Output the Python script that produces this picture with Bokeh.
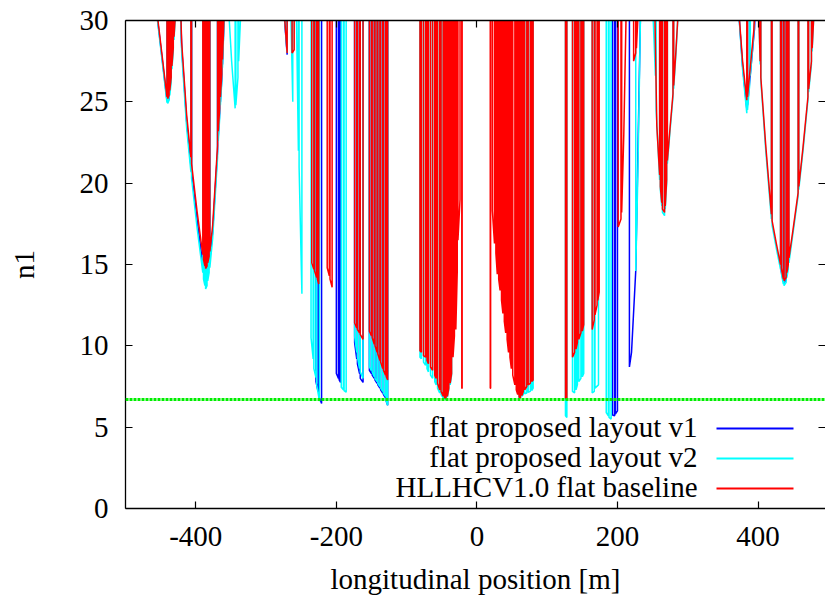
from bokeh.plotting import figure
from bokeh.models import (Range1d, FixedTicker, LinearAxis, Span, Label, BoxAnnotation,
                          PrintfTickFormatter, CustomJSTickFormatter)
from bokeh.embed import file_html
from bokeh.resources import INLINE

# ---------------- data ----------------
# Each series: positions s [m] and aperture n1, elements separated by None.
# Outside the elements n1 is "unlimited" (above the plotted range).
x_ticks = [-400, -200, 0, 200, 400]
y_ticks = [0, 5, 10, 15, 20, 25, 30]
n1_limit = 6.7
x_title = "longitudinal position [m]"
y_title = "n1"
labels = ["flat proposed layout v1", "flat proposed layout v2", "HLLHCV1.0 flat baseline"]

red_s = [
    -462, -441, None, -440, -438, None, -437, -435, None, -434, -432, None, -431, -428, None,
    -424, -420, -413, -407, None, -406, -398, -390, None, -389, -387, None, -386, -384, None,
    -383, -381, None, -380, -376, -369, None, -368, -366, None, -365, -363, None, -362, -360, -357, None,
    -275, -270, None, -263, -260, None,
    -235, -232, None, -231, -228, None, -227, -225, None, -213, -210, None, -209, -206, None,
    -174, -171, None, -170, -167, None, -166, -162, None,
    -153, -150, None, -149, -146, None, -145, -142, None, -141, -138, None, -137, -134, None,
    -133, -130, None, -129, -127, None,
    -81, -79, None, -76, -73, None, -71, -69, None, -66, -63, None, -60, -58, None, -56, -53, None,
    -51, -48, None, -46, -44, None, -42, -40, None, -38, -36, None, -34, -32, None, -30, -28, None,
    -27, -24, None, -21.5, -21, None,
    19, 19.5, None, 22, 25, None, 27, 29, None, 31, 33, None, 35, 37, None, 39, 41, None, 43, 45, None,
    47, 49, None, 51, 54, None, 56, 58, None, 60, 62, None, 64, 66, None, 68, 71, None, 73, 76, None,
    78, 80, None,
    126, 128, None, 136, 139, None, 141, 143, None, 145, 148, None, 150, 152, None,
    164, 167, None, 168, 171, None, 172, 174, None,
    201, 205, None, 206, 209, 213, None, 223, 226, None, 227, 230, None,
    253, 256, 260, None, 261, 263, None, 264, 267, None, 268, 270, None, 271, 275, 279, None,
    280, 283, 287, None,
    371, 378, 384, None, 385, 394, 398, None,
    399, 403, None, 404, 411, 419, None, 420, 426, 432, None, 433, 436, None, 437, 440, None,
    441, 443, None, 444, 450, 457, None, 458, 464, 471, None, 472, 476, None, 477, 479, 482,
]
red_n1 = [
    33, 25.3, None, 25.2, 25.4, None, 25.7, 26.5, None, 27.2, 28.3, None, 29.0, 31.0, None,
    34, 28.6, 24.2, 21.6, None, 21.2, 18.2, 15.6, None, 15.3, 14.9, None, 14.75, 14.9, None,
    15.1, 15.5, None, 15.8, 17.4, 22.3, None, 23.2, 24.6, None, 25.3, 26.7, None, 27.6, 30, 33, None,
    31, 28.0, None, 28.0, 28.2, None,
    15.1, 14.7, None, 14.6, 14.2, None, 14.1, 13.8, None, 14.8, 14.3, None, 14.1, 13.6, None,
    11.4, 11.1, None, 11.0, 10.8, None, 10.7, 10.4, None,
    10.9, 10.6, None, 10.5, 10.1, None, 10.0, 9.6, None, 9.5, 9.1, None, 9.0, 8.6, None,
    8.5, 8.2, None, 8.1, 7.9, None,
    9.7, 9.6, None, 9.4, 9.3, None, 9.1, 8.9, None, 8.7, 8.5, None, 8.2, 8.0, None, 7.7, 7.3, None,
    7.2, 6.9, None, 6.8, 6.75, None, 6.9, 7.4, None, 7.7, 8.3, None, 9.3, 10.6, None, 11.0, 14.5, None,
    16.5, 19.0, None, 7.4, 7.4, None,
    7.4, 7.4, None, 18.3, 16.3, None, 15.7, 14.4, None, 14.1, 13.4, None, 12.8, 12.0, None, 11.5, 10.8, None, 10.4, 9.6, None,
    9.3, 8.6, None, 8.2, 7.6, None, 7.3, 7.0, None, 6.85, 6.8, None, 6.95, 7.2, None, 7.3, 7.5, None, 7.6, 7.7, None,
    7.8, 7.9, None,
    6.8, 6.7, None, 9.3, 9.6, None, 9.8, 10.2, None, 10.4, 10.8, None, 10.9, 11.3, None,
    11.0, 11.6, None, 11.9, 12.5, None, 12.8, 13.3, None,
    17.3, 17.8, None, 18.2, 23, 32, None, 27.5, 28, None, 28.3, 31, None,
    31, 23.5, 20.5, None, 19.8, 18.8, None, 18.4, 18.2, None, 18.6, 20.2, None, 21.4, 23.5, 25.5, None,
    26, 28, 31, None,
    31.5, 27.5, 25.1, None, 25.3, 29.4, 33, None,
    34, 27.5, None, 26.5, 22.3, 18.1, None, 17.7, 16.3, 15.0, None, 14.8, 14.1, None, 14.0, 14.2, None,
    14.5, 15.0, None, 15.4, 17.2, 19.4, None, 19.8, 22.2, 25.3, None, 25.8, 27.5, None, 28.3, 30, 33,
]

cyan_s = [
    -462, -441, None, -440, -438, None, -437, -435, None, -434, -432, None, -431, -428, None,
    -424, -420, -413, -407, None, -406, -398, -390, None, -389, -387, None, -386, -384, None,
    -383, -381, None, -380, -376, -369, None, -368, -366, None, -365, -363, None, -362, -360, -357, None,
    -355, -349, -344, None, -343, -340, None, -339, -335, None,
    -275, -270, None, -265, -262, None, -257, -254, None, -253, -249, None,
    -236, -233, None, -232, -229, None, -228, -224, None, -193, -190, None, -189, -186, None,
    -174, -171, None, -170, -167, None, -166, -162, None,
    -153, -150, None, -149, -146, None, -145, -142, None, -141, -138, None, -137, -134, None,
    -133, -130, None, -129, -127, None,
    -81, -79, None, -76, -73, None, -71, -69, None, -66, -63, None, -60, -58, None, -56, -53, None,
    -51, -48, None, -46, -44, None, -42, -40, None, -38, -36, None,
    60, 62, None, 64, 66, None, 68, 71, None, 73, 76, None, 78, 80, None,
    126, 128, None, 136, 139, None, 141, 143, None, 145, 148, None, 150, 152, None,
    164, 167, None, 168, 173, None, 184, 187, None, 188, 191, None,
    226, 229, 233, None,
    250, 254, None, 255, 257, 260, None, 261, 263, None, 264, 267, None, 268, 270, None,
    271, 275, 279, None, 280, 283, 287, None,
    371, 378, 384, None, 385, 388, None, 389, 394, 398, None,
    399, 403, None, 404, 411, 419, None, 420, 426, 432, None, 433, 436, None, 437, 440, None,
    441, 443, None, 444, 450, 457, None, 458, 464, 471, None, 472, 476, None, 477, 479, 482,
]
cyan_n1 = [
    32.8, 24.95, None, 24.9, 25.1, None, 25.4, 26.2, None, 27.0, 28.1, None, 28.8, 31, None,
    33.5, 28.0, 23.4, 20.7, None, 20.3, 17.2, 14.5, None, 14.1, 13.7, None, 13.5, 13.7, None,
    14.0, 14.5, None, 14.8, 16.6, 21.6, None, 22.6, 24.0, None, 24.8, 26.2, None, 27.1, 29.6, 33, None,
    32, 27.5, 24.6, None, 24.8, 26.5, None, 27.5, 31.5, None,
    31, 28.0, None, 31, 25.0, None, 31, 22, None, 21, 13.2, None,
    10.5, 9.2, None, 8.6, 8.05, None, 7.6, 6.6, None, 7.45, 7.3, None, 7.25, 7.15, None,
    10.6, 9.6, None, 9.3, 8.6, None, 8.4, 8.0, None,
    8.7, 8.5, None, 8.4, 8.1, None, 8.0, 7.8, None, 7.7, 7.5, None, 7.4, 7.2, None,
    7.1, 6.9, None, 6.6, 6.35, None,
    9.3, 9.2, None, 9.0, 8.8, None, 8.6, 8.4, None, 8.2, 8.0, None, 7.8, 7.6, None, 7.4, 7.1, None,
    7.0, 6.8, None, 6.75, 6.7, None, 6.85, 7.3, None, 7.6, 8.2, None,
    6.8, 6.8, None, 6.9, 7.0, None, 7.05, 7.1, None, 7.15, 7.2, None, 7.25, 7.4, None,
    5.7, 5.6, None, 7.2, 7.1, None, 7.3, 7.6, None, 7.8, 8.0, None, 8.1, 8.3, None,
    7.1, 7.2, None, 7.4, 7.6, None, 5.9, 5.7, None, 5.6, 5.5, None,
    14.6, 20.5, 31, None,
    31, 26.6, None, 24.5, 22.8, 20.2, None, 19.6, 18.6, None, 18.2, 18.0, None, 18.4, 20.0, None,
    21.2, 23.3, 25.3, None, 25.8, 27.8, 31, None,
    31.5, 27.0, 24.3, None, 24.5, 26.0, None, 26.6, 29.2, 33, None,
    34, 27.3, None, 26.3, 22.0, 17.8, None, 17.4, 16.0, 14.7, None, 14.5, 13.8, None, 13.7, 13.9, None,
    14.2, 14.7, None, 15.1, 17.0, 19.2, None, 19.6, 22.0, 25.1, None, 25.6, 27.3, None, 28.1, 30, 33,
]

blue_s = [
    -462, -441, None, -440, -438, None,
    -424, -420, -413, -407, None, -406, -398, -390, None, -389, -387, None, -386, -384, None,
    -383, -381, None, -380, -376, -369, None, -368, -366, None, -365, -363, None, -362, -360, -357, None,
    -277, -270, None,
    -229, -226, None, -225, -221, None, -200, -197, None, -196, -194, None,
    -174, -171, None, -170, -167, None, -166, -162, None,
    -153, -150, None, -149, -146, None, -145, -142, None, -141, -138, None, -137, -134, None,
    -133, -130, None, -129, -127, None,
    193, 196, None, 197, 200, None, 217, 220, 226, 233, None,
    371, 378, 384, None, 385, 395, 398, None,
    433, 436, None, 437, 440,
]
blue_n1 = [
    32.9, 25.1, None, 25.0, 25.2, None,
    33.8, 28.3, 23.8, 21.1, None, 20.7, 17.7, 15.0, None, 14.6, 14.3, None, 14.15, 14.3, None,
    14.5, 15.0, None, 15.3, 17.0, 22.0, None, 22.9, 24.3, None, 25.0, 26.4, None, 27.3, 29.8, 33, None,
    32, 27.9, None,
    7.8, 7.2, None, 6.9, 6.45, None, 8.3, 8.0, None, 7.9, 7.75, None,
    10.2, 9.2, None, 8.9, 8.3, None, 8.0, 7.75, None,
    8.5, 8.3, None, 8.2, 8.0, None, 7.9, 7.7, None, 7.6, 7.4, None, 7.3, 7.1, None,
    7.0, 6.8, None, 6.6, 6.35, None,
    5.75, 5.7, None, 5.8, 6.0, None, 8.7, 9.6, 14.6, 31, None,
    31.5, 27.2, 24.6, None, 24.8, 29.5, 33, None,
    14.6, 13.95, None, 13.85, 14.05,
]

HI = 60.0  # "no aperture" value between elements (off the top of the plot)


def polyline(s_list, n_list):
    xs, ys = [], []
    seg_s, seg_n = [], []
    for s, n in list(zip(s_list, n_list)) + [(None, None)]:
        if s is None:
            if seg_s:
                xs += [seg_s[0]] + seg_s + [seg_s[-1]]
                ys += [HI] + seg_n + [HI]
            seg_s, seg_n = [], []
        else:
            seg_s.append(s)
            seg_n.append(n)
    return xs, ys


FONT = "Liberation Serif"

p = figure(width=825, height=597, x_range=Range1d(-500, 496), y_range=Range1d(0, 30),
           output_backend="svg", toolbar_location=None,
           min_border_left=125, min_border_right=0, min_border_top=20, min_border_bottom=89,
           x_axis_label=x_title, y_axis_label=y_title)
p.grid.visible = False
p.outline_line_color = None
p.background_fill_color = "white"
p.border_fill_color = "white"

for s_list, n_list, col in [(blue_s, blue_n1, "#0000ff"), (cyan_s, cyan_n1, "#00ffff"),
                            (red_s, red_n1, "#ff0000")]:
    xs, ys = polyline(s_list, n_list)
    p.line(xs, ys, line_color=col, line_width=1.5)

p.add_layout(Span(location=n1_limit, dimension="width", line_color="#00ee00",
                  line_width=3, line_dash="3 1"))

p.xaxis.ticker = FixedTicker(ticks=x_ticks)
p.yaxis.ticker = FixedTicker(ticks=y_ticks)
p.xaxis.formatter = PrintfTickFormatter(format="%d")
p.yaxis.formatter = PrintfTickFormatter(format="%d")

blank = CustomJSTickFormatter(code="return ''")
top = LinearAxis(ticker=FixedTicker(ticks=x_ticks), formatter=blank,
                 major_label_text_font_size="1px", major_label_standoff=0)
right = LinearAxis(ticker=FixedTicker(ticks=y_ticks), formatter=blank,
                   major_label_text_font_size="1px", major_label_standoff=0)
p.add_layout(top, "above")
p.add_layout(right, "right")

for ax in p.axis:
    ax.axis_line_color = "black"
    ax.axis_line_width = 1.3
    ax.major_tick_in = 7
    ax.major_tick_out = 0
    ax.minor_tick_line_color = None
    ax.major_tick_line_color = "black"
    ax.major_tick_line_width = 1.2
    ax.major_label_text_font = FONT
    ax.axis_label_text_font = FONT
    ax.axis_label_text_font_style = "normal"
    ax.axis_label_text_color = "black"
    ax.major_label_text_color = "black"
right.axis_line_color = None

bx = p.below[0]
bx.major_label_text_font_size = "29px"
bx.axis_label_text_font_size = "29px"
bx.major_label_standoff = 18
bx.axis_label_standoff = 14

ly = p.left[0]
ly.major_label_text_font_size = "29px"
ly.axis_label_text_font_size = "29px"
ly.major_label_standoff = 17
ly.axis_label_standoff = 37

# legend (text on the left, line sample on the right), screen units of the frame
colors = ["#0000ff", "#00ffff", "#ff0000"]
rows = [82, 52, 22]
for lab, col, r in zip(labels, colors, rows):
    p.add_layout(Label(x=572, y=r, x_units="screen", y_units="screen", text=lab,
                       text_align="right", text_baseline="middle", text_font=FONT,
                       text_font_size="29px", text_color="black"))
    p.add_layout(BoxAnnotation(left=591, right=668, bottom=r - 3, top=r - 1,
                               left_units="screen", right_units="screen",
                               bottom_units="screen", top_units="screen",
                               fill_color=col, fill_alpha=1, line_color=None))

open("out.html", "w").write(file_html(p, INLINE))
